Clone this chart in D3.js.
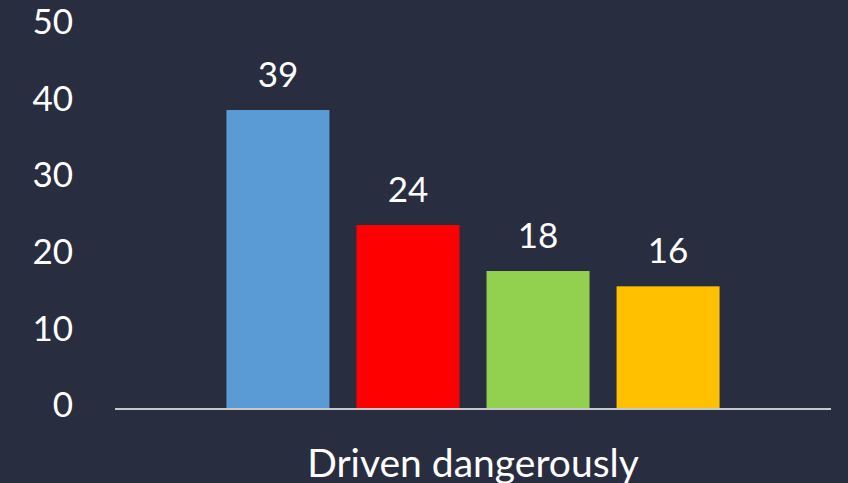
<!DOCTYPE html>
<html>
<head>
<meta charset="utf-8">
<script src="https://cdn.jsdelivr.net/npm/d3@7"></script>
<style>
  html, body { margin: 0; padding: 0; background: #292d40; }
  svg { display: block; }
</style>
</head>
<body>
<svg id="chart" width="848" height="483"></svg>
<script>
// data
const categories = ["Driven dangerously"];
const seriesNames = ["s1", "s2", "s3", "s4"];
const seriesValues = [39, 24, 18, 16];
const seriesColors = ["#5b9bd5", "#ff0000", "#92d050", "#ffc000"];
const yTicks = [0, 10, 20, 30, 40, 50];

const svg = d3.select("#chart"),
  width = +svg.attr("width"),
  height = +svg.attr("height");

const fontFamily = "Lato, 'Open Sans', sans-serif";

// scales
const y = d3.scaleLinear()
  .domain([0, 50])
  .range([409, 25.7]);

const x0 = d3.scaleBand()
  .domain(categories)
  .range([115, 831])
  .paddingInner(0)
  .paddingOuter(0.226);

const x1 = d3.scaleBand()
  .domain(seriesNames)
  .range([0, x0.bandwidth()])
  .paddingInner(0.208)
  .paddingOuter(0);

// y axis, labels only
const yAxis = svg.append("g")
  .attr("transform", "translate(115,0)")
  .call(d3.axisLeft(y).tickValues(yTicks).tickSize(0).tickPadding(42));
yAxis.select(".domain").remove();
yAxis.selectAll("text")
  .attr("fill", "#ffffff")
  .attr("dy", "0.22em")
  .style("font-family", fontFamily)
  .style("font-size", "35px");

// bars
const group = svg.append("g")
  .selectAll("g")
  .data(categories)
  .join("g")
  .attr("transform", d => `translate(${x0(d)},0)`);

const rows = seriesNames.map((s, i) => ({ name: s, value: seriesValues[i], color: seriesColors[i] }));

group.selectAll("rect")
  .data(rows)
  .join("rect")
  .attr("x", d => x1(d.name))
  .attr("y", d => y(d.value))
  .attr("width", x1.bandwidth())
  .attr("height", d => y(0) - y(d.value))
  .attr("fill", d => d.color);

// value labels
group.selectAll("text.val")
  .data(rows)
  .join("text")
  .attr("class", "val")
  .attr("x", d => x1(d.name) + x1.bandwidth() / 2)
  .attr("y", d => y(d.value) - 23)
  .attr("text-anchor", "middle")
  .attr("fill", "#ffffff")
  .style("font-family", fontFamily)
  .style("font-size", "35px")
  .text(d => d.value);

// baseline
svg.append("line")
  .attr("x1", 115)
  .attr("x2", 831)
  .attr("y1", y(0))
  .attr("y2", y(0))
  .attr("stroke", "#c8c8c8")
  .attr("stroke-width", 2);

// category label
svg.append("g")
  .selectAll("text")
  .data(categories)
  .join("text")
  .attr("x", d => x0(d) + x0.bandwidth() / 2)
  .attr("y", 477)
  .attr("text-anchor", "middle")
  .attr("fill", "#ffffff")
  .style("font-family", fontFamily)
  .style("font-size", "39px")
  .text(d => d);
</script>
</body>
</html>
